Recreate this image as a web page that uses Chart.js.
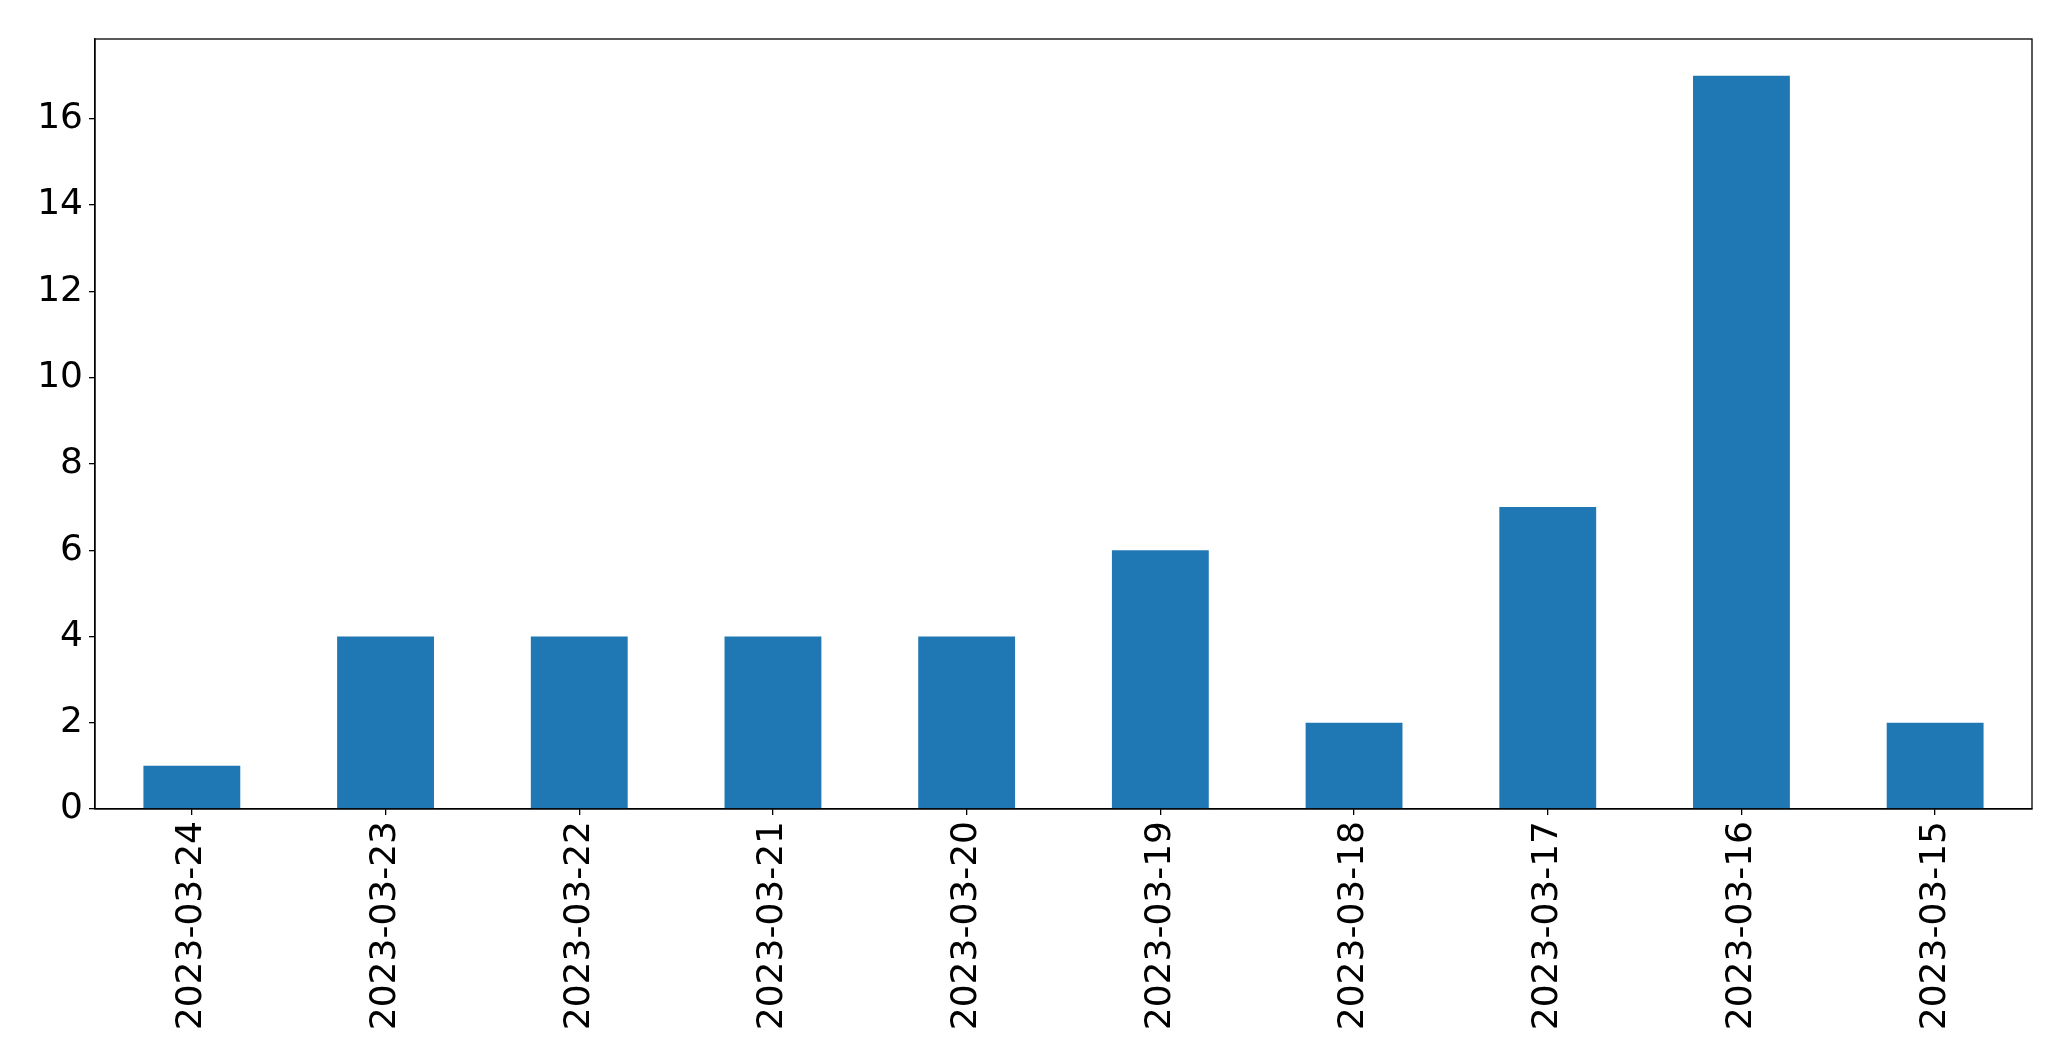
<!DOCTYPE html>
<html lang="en">
<head>
  <meta charset="UTF-8" />
  <title>Daily counts</title>
  <script src="https://cdn.jsdelivr.net/npm/chart.js"></script>
  <style>
    body {
      margin: 0;
      padding: 0;
      background: #ffffff;
      overflow: hidden;
    }
    canvas {
      display: block;
    }
  </style>
</head>
<body>
  <canvas id="barChart" width="2071" height="1061"></canvas>

  <script>
    const dates = ['2023-03-24', '2023-03-23', '2023-03-22', '2023-03-21', '2023-03-20',
                   '2023-03-19', '2023-03-18', '2023-03-17', '2023-03-16', '2023-03-15'];
    const counts = [1, 4, 4, 4, 4, 6, 2, 7, 17, 2];
    const yTicks = [0, 2, 4, 6, 8, 10, 12, 14, 16];
    const yMax = 17.85;

    const fontSpec = { family: 'DejaVu Sans', size: 36 };

    // box around the plot area (matplotlib style spines)
    const frame = {
      id: 'frame',
      afterDraw(chart) {
        const a = chart.chartArea;
        const ctx = chart.ctx;
        ctx.save();
        ctx.strokeStyle = '#000';
        ctx.lineWidth = 1.3;
        ctx.strokeRect(a.left, a.top, a.right - a.left, a.bottom - a.top);
        ctx.restore();
      }
    };

    new Chart(document.getElementById('barChart'), {
      type: 'bar',
      data: {
        labels: dates,
        datasets: [{
          data: counts,
          backgroundColor: '#1f77b4',
          borderWidth: 0,
          barPercentage: 0.5,
          categoryPercentage: 1.0
        }]
      },
      options: {
        responsive: false,
        devicePixelRatio: 1,
        animation: false,
        layout: { padding: { top: 39, right: 39, left: 0, bottom: 0 } },
        plugins: {
          legend: { display: false },
          tooltip: { enabled: false }
        },
        scales: {
          x: {
            offset: true,
            grid: { display: true, offset: false, drawOnChartArea: false, drawTicks: true, tickLength: 6, color: '#000', lineWidth: 1.3 },
            border: { display: true, color: '#000', width: 1.3 },
            ticks: {
              color: '#000',
              font: fontSpec,
              minRotation: 90,
              maxRotation: 90,
              padding: 6,
              autoSkip: false
            },
            afterFit(scale) { scale.height = 252; }
          },
          y: {
            min: 0,
            max: yMax,
            grid: { display: true, drawOnChartArea: false, drawTicks: true, tickLength: 6, color: '#000', lineWidth: 1.3 },
            border: { display: true, color: '#000', width: 1.3 },
            ticks: {
              color: '#000',
              font: fontSpec,
              stepSize: 2,
              padding: 6
            },
            afterBuildTicks(scale) {
              scale.ticks = yTicks.map(v => ({ value: v }));
            },
            afterFit(scale) { scale.width = 95; }
          }
        }
      },
      plugins: [frame]
    });
  </script>
</body>
</html>
